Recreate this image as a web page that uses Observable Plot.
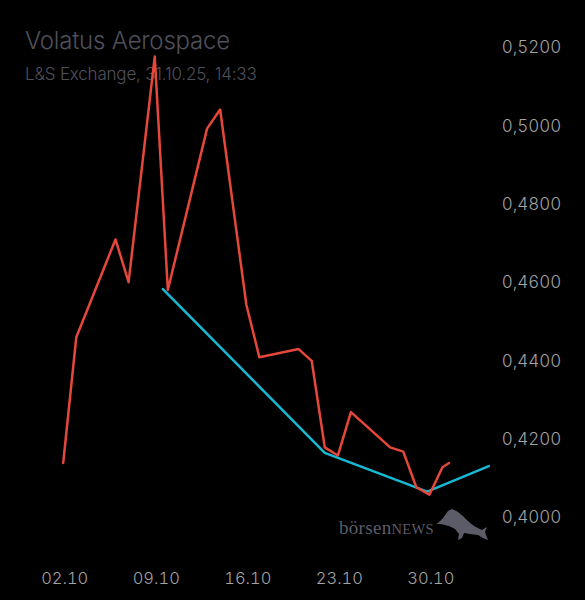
<!DOCTYPE html>
<html>
<head>
<meta charset="utf-8">
<script src="https://cdn.jsdelivr.net/npm/d3@7"></script>
<script src="https://cdn.jsdelivr.net/npm/@observablehq/plot@0.6"></script>
<style>
  html, body { margin: 0; padding: 0; background: #000; }
  #wrap { position: relative; width: 585px; height: 600px; overflow: hidden; background: #000; }
  .title { position: absolute; left: 25px; top: 26px; font-family: Inter, sans-serif; font-weight: 300; font-size: 24px; color: #50505b; letter-spacing: -0.2px; }
  .subtitle { position: absolute; left: 25px; top: 64px; font-family: Inter, sans-serif; font-weight: 300; font-size: 17px; color: #50505b; letter-spacing: -0.2px; }
  #chart { position: absolute; left: 0; top: 0; }
  #wm { position: absolute; left: 0; top: 0; }
</style>
</head>
<body>
<div id="wrap">
  <div class="title">Volatus Aerospace</div>
  <div class="subtitle">L&amp;S Exchange, 31.10.25, 14:33</div>
  <svg id="wm" width="585" height="600" viewBox="0 0 585 600">
    <text x="339" y="534" font-family="Liberation Serif, serif" font-size="19" fill="#5c5c68" letter-spacing="0.3">börsen<tspan font-size="14.5">NEWS</tspan></text>
    <path d="M436,524 C442,521 445,515 448,511 L452,509 C458,511 463,516 468,521 C473,526 478,528 482,530 L487,527 L485,532 L488,540 L483,538 L478,535 L470,534 L464,533 L462,538 L458,540 L459,534 L455,529 C450,526 444,524 436,524 Z" fill="#5c5c68"/>
  </svg>
  <div id="chart"></div>
</div>
<script>
// Price series (L&S Exchange)
const priceDates = [
  "2025-10-02T00:00","2025-10-03T00:00","2025-10-06T00:00","2025-10-07T00:00",
  "2025-10-09T00:00","2025-10-10T00:00","2025-10-13T00:00","2025-10-14T00:00",
  "2025-10-16T00:00","2025-10-17T00:00","2025-10-20T00:00","2025-10-21T00:00",
  "2025-10-22T00:00","2025-10-23T00:00","2025-10-24T00:00","2025-10-27T00:00",
  "2025-10-28T00:00","2025-10-29T00:00","2025-10-30T00:00","2025-10-31T00:00",
  "2025-10-31T12:00"
];
const priceValues = [
  0.4140, 0.4461, 0.4711, 0.4602,
  0.5178, 0.4582, 0.4994, 0.5043,
  0.4545, 0.4410, 0.4431, 0.4401,
  0.4180, 0.4159, 0.4270, 0.4180,
  0.4169, 0.4078, 0.4059, 0.4129,
  0.4140
];

// Trend line (cyan)
const trendDates = ["2025-10-09T15:00","2025-10-22T00:00","2025-10-29T20:00","2025-11-03T13:00"];
const trendValues = [0.4584, 0.4166, 0.4067, 0.4132];

// Axis ticks
const xTickDates = ["2025-10-02T00:00","2025-10-09T00:00","2025-10-16T00:00","2025-10-23T00:00","2025-10-30T00:00"];
const yTickValues = [0.40, 0.42, 0.44, 0.46, 0.48, 0.50, 0.52];

const parse = d3.utcParse("%Y-%m-%dT%H:%M");
const price = priceDates.map((d, i) => ({date: parse(d), value: priceValues[i]}));
const trend = trendDates.map((d, i) => ({date: parse(d), value: trendValues[i]}));

const chart = Plot.plot({
  width: 585,
  height: 600,
  marginLeft: 62.7,
  marginRight: 96.7,
  marginTop: 30,
  marginBottom: 40,
  style: {background: "transparent", fontFamily: "Inter, sans-serif", fontWeight: 300, fontSize: "17px", color: "#a3a3a3"},
  x: {type: "utc", domain: [parse("2025-10-02T00:00"), parse("2025-11-03T13:00")]},
  y: {domain: [0.40, 0.52], range: [517.3, 47.5]},
  marks: [
    Plot.axisX({
      ticks: xTickDates.map(parse),
      tickFormat: d3.utcFormat("%d.%m"),
      tickSize: 0,
      tickPadding: 12,
      dx: 1.5,
      fontSize: 16.5,
      label: null,
      fill: "#a3a3a3"
    }),
    Plot.axisY({
      anchor: "right",
      ticks: yTickValues,
      tickFormat: d => d.toFixed(4).replace(".", ","),
      tickSize: 0,
      tickPadding: 13,
      label: null,
      fill: "#a3a3a3"
    }),
    Plot.line(trend, {x: "date", y: "value", stroke: "#18b8d2", strokeWidth: 2.5}),
    Plot.line(price, {x: "date", y: "value", stroke: "#e5473b", strokeWidth: 2.5})
  ]
});
document.getElementById("chart").appendChild(chart);
</script>
</body>
</html>
